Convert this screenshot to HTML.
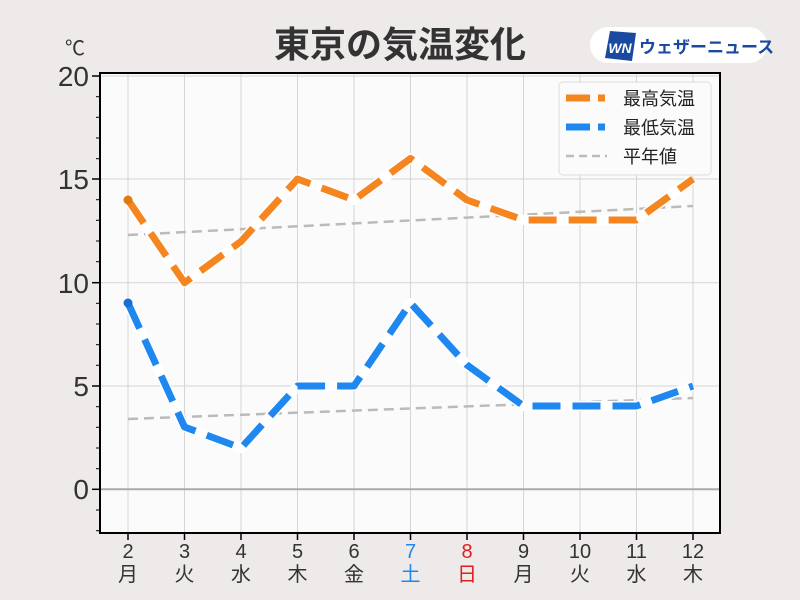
<!DOCTYPE html>
<html><head><meta charset="utf-8"><style>
body{margin:0;background:#edeae9;}
svg{display:block;font-family:"Liberation Sans","Noto Sans CJK JP",sans-serif;}
</style></head><body>
<svg width="800" height="600" viewBox="0 0 800 600">
<rect width="800" height="600" fill="#edeae9"/>
<text x="400" y="57" text-anchor="middle" font-size="36" font-weight="bold" fill="#333">東京の気温変化</text>
<rect x="590" y="27" width="177" height="36" rx="18" fill="#fff"/>
<polygon points="610,31 636,33 632,61 605,58" fill="#1a4aa0"/>
<text x="620" y="53" text-anchor="middle" font-size="14" font-weight="bold" font-style="italic" fill="#fff">WN</text>
<text x="639" y="53" font-size="17" font-weight="bold" fill="#1a4aa0">ウェザーニュース</text>
<rect x="100" y="73" width="620" height="460" fill="#fcfbfb"/>
<g stroke="#d5d5d5" stroke-width="1">
<line x1="100" y1="76" x2="720" y2="76"/><line x1="100" y1="179" x2="720" y2="179"/>
<line x1="100" y1="282.7" x2="720" y2="282.7"/><line x1="100" y1="386" x2="720" y2="386"/>
<line x1="128" y1="73" x2="128" y2="533"/><line x1="184.5" y1="73" x2="184.5" y2="533"/>
<line x1="241" y1="73" x2="241" y2="533"/><line x1="297.5" y1="73" x2="297.5" y2="533"/>
<line x1="354" y1="73" x2="354" y2="533"/><line x1="410.5" y1="73" x2="410.5" y2="533"/>
<line x1="467" y1="73" x2="467" y2="533"/><line x1="523.5" y1="73" x2="523.5" y2="533"/>
<line x1="580" y1="73" x2="580" y2="533"/><line x1="636.5" y1="73" x2="636.5" y2="533"/>
<line x1="693" y1="73" x2="693" y2="533"/>
</g>
<line x1="100" y1="489.3" x2="720" y2="489.3" stroke="#aaa" stroke-width="2"/>
<g stroke="#bbb" stroke-width="2.5" stroke-dasharray="10,6">
<line x1="128" y1="235" x2="693" y2="206"/>
<line x1="128" y1="419" x2="693" y2="398"/>
</g>
<g fill="none" stroke-linejoin="round">
<polyline points="128,200 184.5,282.7 241,241.4 297.5,179 354,200 410.5,158.4 467,200 523.5,220 580,220 636.5,220 693,179" stroke="#fff" stroke-width="10"/>
<polyline points="128,200 184.5,282.7 241,241.4 297.5,179 354,200 410.5,158.4 467,200 523.5,220 580,220 636.5,220 693,179" stroke="#f5861f" stroke-width="7" stroke-dasharray="28,12"/>
<polyline points="128,303 184.5,427 241,448 297.5,386 354,386 410.5,303 467,365 523.5,406 580,406 636.5,406 693,386" stroke="#fff" stroke-width="10"/>
<polyline points="128,303 184.5,427 241,448 297.5,386 354,386 410.5,303 467,365 523.5,406 580,406 636.5,406 693,386" stroke="#1e88f0" stroke-width="7" stroke-dasharray="28,12"/>
</g>
<circle cx="128" cy="200" r="4.5" fill="#e07a10"/>
<circle cx="128" cy="303" r="4.5" fill="#1a70d0"/>
<rect x="100" y="73" width="620" height="460" fill="none" stroke="#000" stroke-width="2"/>
<rect x="559" y="82" width="152" height="93" rx="4" fill="#fcfbfb" stroke="#ddd"/>
<line x1="566" y1="98" x2="605" y2="98" stroke="#f5861f" stroke-width="7" stroke-dasharray="24,8"/>
<line x1="566" y1="127" x2="605" y2="127" stroke="#1e88f0" stroke-width="7" stroke-dasharray="24,8"/>
<line x1="566" y1="156" x2="607" y2="156" stroke="#bbb" stroke-width="2.5" stroke-dasharray="8,5"/>
<g font-size="18" fill="#222">
<text x="623" y="105">最高気温</text><text x="623" y="134">最低気温</text><text x="623" y="163">平年値</text>
</g>
<g stroke="#000" stroke-width="1.5">
<line x1="92" y1="76" x2="100" y2="76"/><line x1="92" y1="179" x2="100" y2="179"/>
<line x1="92" y1="282.7" x2="100" y2="282.7"/><line x1="92" y1="386" x2="100" y2="386"/><line x1="92" y1="489.3" x2="100" y2="489.3"/>
</g>
<g stroke="#000" stroke-width="1">
<line x1="96" y1="96.7" x2="100" y2="96.7"/><line x1="96" y1="117.3" x2="100" y2="117.3"/><line x1="96" y1="138" x2="100" y2="138"/><line x1="96" y1="158.7" x2="100" y2="158.7"/>
<line x1="96" y1="199.7" x2="100" y2="199.7"/><line x1="96" y1="220.3" x2="100" y2="220.3"/><line x1="96" y1="241" x2="100" y2="241"/><line x1="96" y1="261.7" x2="100" y2="261.7"/>
<line x1="96" y1="303.3" x2="100" y2="303.3"/><line x1="96" y1="324" x2="100" y2="324"/><line x1="96" y1="344.7" x2="100" y2="344.7"/><line x1="96" y1="365.3" x2="100" y2="365.3"/>
<line x1="96" y1="406.7" x2="100" y2="406.7"/><line x1="96" y1="427.3" x2="100" y2="427.3"/><line x1="96" y1="448" x2="100" y2="448"/><line x1="96" y1="468.7" x2="100" y2="468.7"/>
<line x1="96" y1="510" x2="100" y2="510"/><line x1="96" y1="530.7" x2="100" y2="530.7"/>
</g>
<g font-size="28" fill="#333" text-anchor="end">
<text x="89" y="86">20</text><text x="89" y="189">15</text><text x="89" y="293">10</text><text x="89" y="396">5</text><text x="89" y="499">0</text>
</g>
<text x="75" y="55" text-anchor="middle" font-size="20" fill="#333">℃</text>
<g stroke="#000" stroke-width="1.5">
<line x1="128" y1="533" x2="128" y2="540"/><line x1="184.5" y1="533" x2="184.5" y2="540"/><line x1="241" y1="533" x2="241" y2="540"/><line x1="297.5" y1="533" x2="297.5" y2="540"/><line x1="354" y1="533" x2="354" y2="540"/><line x1="410.5" y1="533" x2="410.5" y2="540"/><line x1="467" y1="533" x2="467" y2="540"/><line x1="523.5" y1="533" x2="523.5" y2="540"/><line x1="580" y1="533" x2="580" y2="540"/><line x1="636.5" y1="533" x2="636.5" y2="540"/><line x1="693" y1="533" x2="693" y2="540"/>
</g>
<g font-size="20" fill="#333" text-anchor="middle">
<text x="128" y="558">2</text><text x="184.5" y="558">3</text><text x="241" y="558">4</text><text x="297.5" y="558">5</text><text x="354" y="558">6</text><text x="410.5" y="558" fill="#1e88f0">7</text><text x="467" y="558" fill="#e02020">8</text><text x="523.5" y="558">9</text><text x="580" y="558">10</text><text x="636.5" y="558">11</text><text x="693" y="558">12</text>
<text x="128" y="581">月</text><text x="184.5" y="581">火</text><text x="241" y="581">水</text><text x="297.5" y="581">木</text><text x="354" y="581">金</text><text x="410.5" y="581" fill="#1e88f0">土</text><text x="467" y="581" fill="#e02020">日</text><text x="523.5" y="581">月</text><text x="580" y="581">火</text><text x="636.5" y="581">水</text><text x="693" y="581">木</text>
</g>
</svg>
</body></html>
